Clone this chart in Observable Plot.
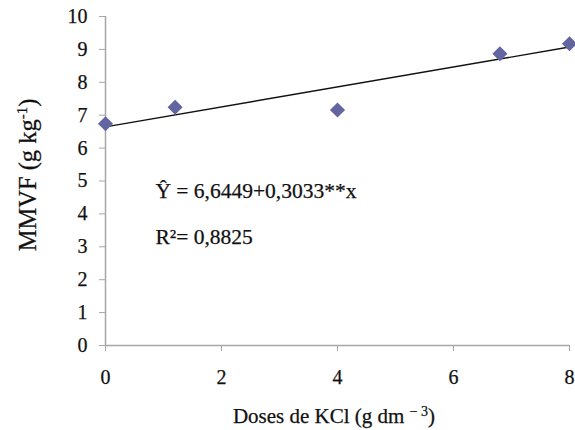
<!DOCTYPE html>
<html>
<head>
<meta charset="utf-8">
<script src="https://cdn.jsdelivr.net/npm/d3@7"></script>
<script src="https://cdn.jsdelivr.net/npm/@observablehq/plot@0.6"></script>
<style>
  html, body { margin: 0; padding: 0; background: #fff; }
  #chart svg { display: block; }
  #chart svg text {
    font-family: 'Liberation Serif', 'Times New Roman', serif !important;
    stroke: currentColor; stroke-width: 0.25px; paint-order: stroke;
  }
</style>
</head>
<body>
<div id="chart"></div>
<script>
const doses = [0, 1.2, 4, 6.8, 8];
const mmvf = [6.74, 7.24, 7.16, 8.87, 9.17];

// Fitted regression from the chart text
const intercept = 6.6449;
const slope = 0.3033;
const fitRange = [0, 8];

const xTicks = [0, 2, 4, 6, 8];
const yTicks = [0, 1, 2, 3, 4, 5, 6, 7, 8, 9, 10];

const eqLines = ["Ŷ = 6,6449+0,3033**x", "R²= 0,8825"];
const eqX = [0.86, 0.86];
const eqY = [4.47, 3.1];

const points = doses.map((d, i) => ({x: d, y: mmvf[i]}));
const fit = fitRange.map(x => ({x, y: intercept + slope * x}));
const eq = eqLines.map((t, i) => ({t, x: eqX[i], y: eqY[i]}));

const axisColor = "#a6a6a6";
const textColor = "#111";
const serif = "'Liberation Serif', 'Times New Roman', serif";

const chart = Plot.plot({
  width: 575,
  height: 430,
  marginLeft: 105,
  marginRight: 6,
  marginTop: 16,
  marginBottom: 85,
  style: {fontFamily: serif, background: "#fff", color: textColor},
  x: {domain: [0, 8]},
  y: {domain: [0, 10]},
  marks: [
    Plot.ruleX([0], {stroke: axisColor, strokeWidth: 1.5, y1: 0, y2: 10}),
    Plot.ruleY([0], {stroke: axisColor, strokeWidth: 1.5}),
    Plot.axisY({
      ticks: yTicks, tickSize: 6, tickPadding: 12, stroke: axisColor,
      fontSize: 20, fill: textColor, fontFamily: serif, label: null
    }),
    Plot.axisX({
      ticks: xTicks, tickSize: 6, tickPadding: 18, stroke: axisColor,
      fontSize: 20, fill: textColor, fontFamily: serif, label: null
    }),
    Plot.line(fit, {x: "x", y: "y", stroke: "#111", strokeWidth: 1.4}),
    Plot.dot(points, {x: "x", y: "y", symbol: "diamond2", r: 6.8, fill: "#62659f", stroke: "none"}),
    Plot.text(eq, {x: "x", y: "y", text: "t", textAnchor: "start", lineAnchor: "bottom",
      fontSize: 21.5, fill: textColor, fontFamily: serif})
  ]
});

const svg = d3.select(chart);
// Axis titles as real text, with superscripts
const yl = svg.append("text")
  .attr("transform", "translate(35.5,175) rotate(-90)")
  .attr("text-anchor", "middle")
  .attr("font-family", serif)
  .attr("font-size", 24.5)
  .attr("fill", textColor);
yl.append("tspan").text("MMVF (g kg");
yl.append("tspan").attr("font-size", 15).attr("dy", -9).text("-1");
yl.append("tspan").attr("dy", 9).text(")");

const xl = svg.append("text")
  .attr("x", 334)
  .attr("y", 423)
  .attr("text-anchor", "middle")
  .attr("font-family", serif)
  .attr("font-size", 21)
  .attr("fill", textColor);
xl.append("tspan").text("Doses de KCl (g dm ");
xl.append("tspan").attr("font-size", 14).attr("dy", -7).text("− 3");
xl.append("tspan").attr("dy", 7).text(")");

document.getElementById("chart").appendChild(chart);
</script>
</body>
</html>
